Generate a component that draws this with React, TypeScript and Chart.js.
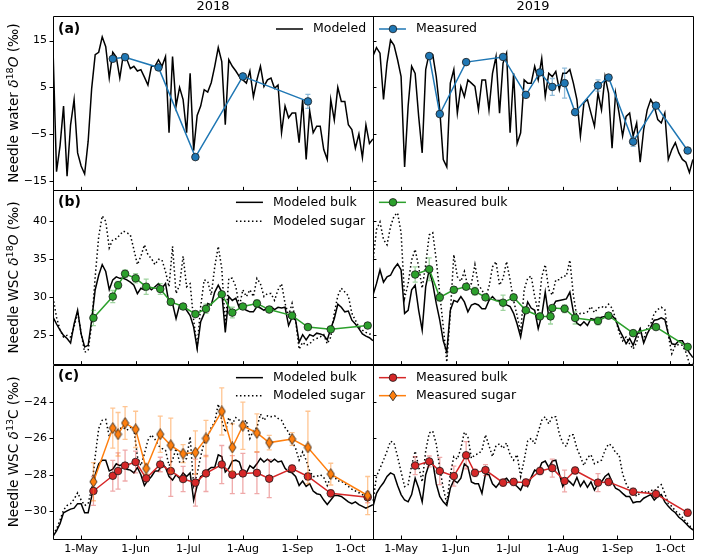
import React, { useEffect, useRef } from 'react';
import { Chart, registerables } from 'chart.js';

Chart.register(...registerables);

const FONT = "'DejaVu Sans', sans-serif";
const C_BLUE = '#1f77b4';
const C_GREEN = '#2ca02c';
const C_RED = '#d62728';
const C_ORANGE = '#ff7f0e';
const EDGE = '#1a1a1a';

// x axis (day of year)
const tickDays = [121, 152, 182, 213, 244, 274];
const tickLabels = ['1-May', '1-Jun', '1-Jul', '1-Aug', '1-Sep', '1-Oct'];
const yTicksA = [-15, -5, 5, 15];
const yTicksB = [25, 30, 35, 40];
const yTicksC = [-30, -28, -26, -24];

// modeled series, every second day
const modelDays = [105,107,109,111,113,115,117,119,121,123,125,127,129,131,133,135,137,139,141,143,145,147,149,151,153,155,157,159,161,163,165,167,169,171,173,175,177,179,181,183,185,187,189,191,193,195,197,199,201,203,205,207,209,211,213,215,217,219,221,223,225,227,229,231,233,235,237,239,241,243,245,247,249,251,253,255,257,259,261,263,265,267,269,271,273,275,277,279,281,283,285,287];

const modeledA2018 = [13.4,-13,-7.5,1,-14,-3,2.4,-9,-11.8,-13.5,-6.5,4.8,12,12.5,15.8,13.7,7,12.5,11.5,7,12,11,9,9.5,8.5,8.8,7.2,5.5,9.5,9.5,10.9,9.5,11.6,-4.7,11.6,1,5,2.4,-4.7,8,-8.5,-1,1,4.5,4,6,9.5,13.5,10.5,-3,10.9,9.5,8.5,7.3,6.6,5.9,8.5,3,6.6,9.5,5.2,6.6,7,4.8,5.5,-4.7,1,-1.5,-0.5,-0.5,-6.8,2.4,-10.4,0,-4.7,-3.3,-3.3,-8.3,-10.4,2.4,-2,5,2,2,-3,-4,-8,-5,-10,-3,-7,-6];
const modeledA2019 = [11.7,13.5,12.3,2.4,10.2,15.1,14,10.9,7.3,-12,1,9.5,8,-1.2,-9,8.8,12.3,12,7.3,0.2,-10.4,-12,5.9,8.8,-0.5,5.2,3,6.6,5.9,5.2,0.2,6.6,6.6,0.2,8,11.6,-0.5,10.2,12.3,-4.7,8,-7,-4.7,6.6,5.9,5.9,9.5,6.6,11.2,3.1,8,7.3,8.4,4.5,8,8,8.8,5.9,2.4,-5.4,1.7,2.4,-0.5,-3.3,3.8,0.2,7.3,3.8,-8,3.8,-0.5,-5.4,-1.2,-0.5,-5.4,-2.6,-11,-4,0.2,2.4,1,-1.9,-2.6,-0.5,-10.4,-8.3,-6.8,-9,-10.4,-11,-13.2,-10.4];

const modeledBulkB2018 = [27.4,26.5,25.7,25.0,24.6,24.0,26.5,28.3,25.2,23.5,23.7,27.0,31,32.9,34.3,33.4,31,32.3,32.7,32.5,32.5,32.3,32,31.6,30.5,31.2,31,31.4,31,31.4,31.8,31.2,31.8,29.2,29.2,27.2,29,28.8,28.3,27.6,26.1,23.3,26.8,27.9,29.2,29,30.7,31.6,30.7,25.4,30.1,29.6,29.9,28.6,28.6,28.3,28.1,28.1,28.8,28.6,28.3,28.7,28.8,28.4,28.7,28.6,28.7,26.3,27.4,27,24.1,25.1,24.4,25.1,24.9,25.3,25.2,25,24.4,25.9,27.2,29.1,28.7,28.1,28.2,27,26.5,25.9,25.2,24.9,24.7,24.3];
const modeledSugarB2018 = [30.0,27.4,25.7,24.8,25,24.8,26.1,28.1,25.3,22.8,23,26.5,32.7,38,40.7,40,36.5,37.6,37.7,38.2,38.7,38.5,38.2,36.3,34.3,35.4,36.9,35.6,35.1,34.3,35,34.9,33.4,31.4,36.7,30.5,31.6,35.4,31.4,31.8,27,23.5,28.8,32.3,32.1,30.3,34,36.7,33.8,26.3,32.5,32.5,31.4,28.8,31,30.1,31,30.1,32.5,31.8,30.1,30.5,30.5,29.6,31,31.8,29.2,27.6,29.2,27,23.2,24.1,23.7,23.9,24.4,24.6,24.8,25.1,23.9,24.8,27.9,30.2,31.2,30.7,30.2,27.9,27,26.1,25.7,25.4,25.2,25.2];
const modeledBulkB2019 = [30.3,31.8,33.6,32,32.7,32.9,33.8,34.4,33.6,27.9,28.3,31,31.6,28.3,25.7,31.4,33.6,31.8,29.2,27,24.3,22.8,28.3,29.6,29.4,30.1,29.4,28.1,29,29.2,29,28.5,28.5,29.6,30.1,29.6,29.6,29.4,29,28.8,27.9,26.5,24.8,27.4,29.4,28.6,28.3,25.9,27.6,30.7,27.4,28.7,29.5,29.6,29.7,29.8,30.7,28.1,26.6,26.3,26.8,26.3,27.2,27.1,27.1,27.4,27.5,27.7,27.6,27.1,25.8,24.9,23.9,24.6,23.7,25,25.9,24,25.2,26.1,27,27.1,27.3,27.1,25.2,23.9,23.8,24.3,24.3,23.5,22.7,22.1];
const modeledSugarB2019 = [34.7,38.9,39.9,37.6,36.9,39.3,40.7,41.1,38.5,29.9,31.8,34.9,36.3,34,31.2,34.3,38.2,38.5,34.9,30.5,26.1,21.5,27.9,35.6,32.7,32.1,33.4,31.4,31.8,34.3,31.6,31,29.9,31.4,34,34.7,31.6,32.5,34.7,32.3,29.6,27.6,25.4,31,32.5,32.8,30.1,28.1,32.7,34.3,31,30.3,32.3,32.3,32.8,32.8,34.9,30.3,27.4,27.9,27.9,28.1,28.8,28,28.6,28.8,28.6,29.1,28.6,27.2,25.4,24.3,24.8,23.9,23.2,24.1,25.8,24.3,26.1,26.5,27.9,28.4,28.7,28.4,25,22.6,23.7,23.8,23.7,22.8,21.3,21.3];

const modeledBulkC2018 = [-31.4,-31.1,-30.7,-30.1,-30,-29.9,-29.85,-29.6,-29.6,-30.1,-30.1,-29.2,-28,-27.4,-27.2,-27.2,-27.8,-27.7,-27.4,-27.5,-27.4,-27.7,-27.75,-27.9,-27.6,-28,-28.6,-28.3,-28.1,-27.8,-27.8,-27.4,-27.6,-28.1,-28.3,-28,-28.2,-27.9,-28.1,-27.9,-29.4,-28.6,-28.1,-28,-27.75,-27.6,-27.6,-26.9,-27,-27.85,-27.65,-27.25,-27.2,-27.3,-27.9,-27.9,-27.5,-27.65,-27.4,-27.1,-27.3,-27.15,-27.3,-27.15,-27.3,-27.25,-27.65,-27.85,-27.9,-28.1,-28.6,-28.35,-28.65,-28.5,-28.9,-29.05,-29.1,-29.4,-29.65,-29.4,-29.15,-29.15,-29.2,-29.35,-29.5,-29.6,-29.5,-29.65,-29.75,-29.85,-29.75,-29.65];
const modeledSugarC2018 = [-31.3,-31.0,-30.5,-29.95,-29.7,-29.6,-29.35,-29,-29.4,-29.7,-29.6,-28.75,-27,-25.45,-25,-24.95,-25.9,-25.45,-25.6,-25.45,-25.4,-25.55,-25.4,-25.45,-27,-27.5,-26.85,-26.1,-25.8,-26.05,-26.4,-26.55,-26.65,-27.5,-27.2,-26.55,-27.3,-27.3,-27.1,-25.9,-28.6,-27.95,-27,-26.2,-25.9,-25.4,-25.1,-24.1,-25,-25.65,-24.85,-25.2,-24.85,-25,-25.15,-25,-26,-25.55,-25.4,-24.65,-25,-24.75,-24.8,-24.75,-24.9,-25,-25.4,-25.65,-26.15,-26.55,-27.2,-26.75,-27.2,-27.8,-28.1,-28.1,-28,-28.15,-28.6,-28.1,-28.1,-28.35,-28.35,-28.5,-28.65,-28.8,-28.9,-29,-29.1,-29.2,-29.35,-29.4];
const modeledBulkC2019 = [-29.76,-29.03,-28.7,-28.45,-28.1,-27.9,-28,-28.6,-29.1,-29.4,-29.5,-29.1,-28.2,-28.75,-29.5,-28,-27.4,-27.3,-28.5,-29.2,-29.5,-29.7,-28.75,-28.3,-28.45,-28.2,-27.4,-27.57,-28.4,-28.5,-28.5,-29.03,-27.95,-28,-28.5,-28.7,-28.45,-28.3,-28.2,-28.45,-28.5,-28.65,-28.85,-28.4,-28.65,-28.15,-27.75,-27.85,-27.35,-27.25,-27.6,-27.25,-27.2,-27.95,-28.65,-28.25,-28.4,-28.6,-28.15,-28.65,-28.35,-28.7,-28.4,-28.85,-28.5,-28.4,-28.1,-27.95,-28.4,-28.75,-28.85,-29.03,-29.2,-29.2,-29.55,-29.5,-29.5,-29.3,-29.2,-29.1,-29.4,-29.2,-29.1,-29.5,-29.75,-29.95,-30.1,-30.35,-30.5,-30.7,-30.9,-31.05];
const modeledSugarC2019 = [-29.5,-28.1,-27.65,-27.2,-26.7,-26.15,-26.25,-27,-27.85,-28.66,-28.55,-27.5,-26.7,-27.55,-28.4,-26.7,-25.7,-25.6,-26.3,-27.65,-28.75,-29.6,-28,-27,-27.15,-26.55,-25.65,-25.9,-27.1,-26.9,-26.85,-26.65,-25.8,-26.4,-27,-26.4,-26.3,-26.55,-26.25,-26.9,-27.2,-26.9,-28.1,-27.2,-26.15,-26,-26.3,-25.65,-25,-24.8,-25.2,-24.8,-24.8,-25.75,-26.25,-26.45,-25.8,-25.8,-26.55,-27,-27.5,-27.05,-26.9,-27.4,-27.3,-27.2,-26.65,-26.3,-26.4,-26.8,-26.9,-27.95,-28.5,-28.85,-28.95,-29.2,-29,-28.9,-29.03,-28.85,-28.9,-28.7,-28.55,-29.03,-29.6,-29.75,-30,-30.15,-30.35,-30.6,-30.8,-31.05];

// measured series
const measA2018Days = [139, 146, 165, 186, 213, 250];
const measA2018 = [11.1, 11.45, 9.26, -9.9, 7.34, 2.0];
const measA2018Err = [0.3, 0.3, 0.4, 0.3, 0.6, 1.5];
const measA2019Days = [137, 143, 158, 179, 192, 200, 207, 214, 220, 233, 239, 253, 266, 284];
const measA2019 = [11.7, -0.7, 10.4, 11.5, 3.4, 8.2, 5.1, 5.9, -0.3, 5.4, 7.1, -6.6, 1.1, -8.5];
const measA2019Err = [0.3, 0.3, 0.3, 0.3, 0.3, 0.3, 1.8, 3.2, 0.3, 1.2, 0.3, 1.0, 0.3, 0.5];

const measB2018Days = [128, 139, 142, 146, 152, 158, 166, 172, 179, 186, 192, 201, 207, 213, 221, 228, 241, 250, 263, 284];
const measB2018 = [27.3, 30.1, 31.6, 33.1, 32.5, 31.4, 31.1, 29.4, 28.8, 27.8, 28.5, 30.4, 28.0, 28.8, 29.2, 28.4, 27.6, 26.1, 25.8, 26.3];
const measB2018Err = [1, 0.8, 0.5, 0.5, 0.6, 1, 0.7, 0.3, 0.3, 0.3, 0.6, 0.3, 0.7, 0.3, 0.5, 0.3, 0.3, 0.2, 0.2, 0.2];
const measB2019Days = [129, 137, 143, 151, 158, 163, 169, 179, 185, 192, 200, 206, 207, 214, 220, 233, 239, 253, 266, 284];
const measB2019 = [33.0, 33.7, 30.0, 31.0, 31.4, 30.8, 30.0, 29.3, 30.0, 28.3, 27.5, 27.5, 28.6, 28.5, 27.3, 26.9, 27.6, 25.3, 26.1, 23.5];
const measB2019Err = [1, 1.5, 0.5, 0.4, 0.3, 0.5, 0.3, 1, 0.3, 0.3, 0.3, 1, 0.3, 0.5, 0.8, 0.5, 0.3, 0.3, 0.3, 0.3];

const measC2018Days = [128, 139, 142, 146, 152, 158, 166, 172, 179, 186, 192, 201, 207, 213, 221, 228, 241, 250, 263, 284];
const measSugarC2018 = [-28.39, -25.43, -25.77, -25.15, -25.5, -27.66, -25.77, -26.38, -26.84, -26.78, -26.0, -24.51, -26.5, -25.3, -25.7, -26.23, -26.03, -26.5, -27.97, -29.15];
const measSugarC2018Err = [1.05, 1.1, 1.2, 0.9, 1.0, 0.3, 1.0, 1.5, 0.5, 1.2, 1.0, 1.3, 1.3, 1.3, 1.05, 0.4, 0.35, 2.0, 0.6, 1.05];
const measBulkC2018 = [-28.9, -28.06, -27.8, -27.5, -27.3, -28.2, -27.44, -27.8, -28.24, -28.44, -27.93, -27.44, -28.0, -27.93, -27.9, -28.22, -27.66, -28.1, -29.03, -29.25];
const measBulkC2018Err = [0.8, 0.85, 1.0, 0.85, 0.6, 0.2, 0.4, 1.4, 0.7, 1.3, 1.0, 1.05, 1.05, 1.1, 1.15, 1.05, 0.2, 0.2, 0.2, 0.3];
const measC2019Days = [129, 137, 143, 151, 158, 163, 169, 179, 185, 192, 200, 207, 214, 220, 233, 239, 253, 266, 284];
const measBulkC2019 = [-27.5, -27.27, -27.8, -28.08, -26.93, -27.9, -27.75, -28.44, -28.4, -28.43, -27.8, -27.64, -28.35, -27.77, -28.44, -28.4, -28.94, -29.07, -30.1];
const measBulkC2019Err = [0.5, 0.3, 0.75, 0.55, 0.75, 0.2, 0.3, 0.2, 0.2, 0.2, 0.2, 0.5, 0.6, 0.2, 0.5, 0.2, 0.2, 0.2, 0.2];

const fmt = (v: number) => (v < 0 ? '\u2212' + Math.abs(v) : String(v));
const pts = (days: number[], vals: number[]) => vals.map((v, i) => ({ x: days[i], y: v }));

function modeled(days: number[], vals: number[], x: string, y: string, dotted: boolean): any {
  return {
    type: 'line', data: pts(days, vals), xAxisID: x, yAxisID: y,
    borderColor: '#000', borderWidth: 1.5, pointRadius: 0, pointHoverRadius: 0,
    borderDash: dotted ? [1.5, 2.5] : [], borderCapStyle: 'butt', fill: false, tension: 0, order: 2,
  };
}
function measured(days: number[], vals: number[], errs: number[], x: string, y: string, color: string, errColor: string, style: any): any {
  return {
    type: 'line', data: pts(days, vals), xAxisID: x, yAxisID: y,
    borderColor: color, backgroundColor: color, borderWidth: 1.5,
    pointRadius: 3.8, pointStyle: style, pointBackgroundColor: color,
    pointBorderColor: EDGE, pointBorderWidth: 0.8, fill: false, tension: 0, order: 1,
    errors: errs, errColor,
  };
}

function drawMarker(ctx: CanvasRenderingContext2D, x: number, y: number, kind: string, color: string) {
  ctx.save();
  ctx.beginPath();
  if (kind === 'circle') {
    ctx.arc(x, y, 3.8, 0, Math.PI * 2);
  } else {
    ctx.moveTo(x, y - 5.2); ctx.lineTo(x + 3.6, y); ctx.lineTo(x, y + 5.2); ctx.lineTo(x - 3.6, y); ctx.closePath();
  }
  ctx.fillStyle = color; ctx.fill();
  ctx.lineWidth = 0.8; ctx.strokeStyle = EDGE; ctx.stroke();
  ctx.restore();
}

export default function App() {
  const ref = useRef<HTMLCanvasElement>(null);
  useEffect(() => {
    const canvas = ref.current!;
    Chart.defaults.font.family = FONT;

    const diamond = document.createElement('canvas');
    diamond.width = 9; diamond.height = 12;
    const dctx = diamond.getContext('2d')!;
    dctx.beginPath();
    dctx.moveTo(4.5, 0.6); dctx.lineTo(8.1, 6); dctx.lineTo(4.5, 11.4); dctx.lineTo(0.9, 6); dctx.closePath();
    dctx.fillStyle = C_ORANGE; dctx.fill(); dctx.lineWidth = 0.8; dctx.strokeStyle = EDGE; dctx.stroke();

    const datasets: any[] = [
      modeled(modelDays, modeledA2018, 'x18', 'ya', false),
      modeled(modelDays, modeledA2019, 'x19', 'ya', false),
      modeled(modelDays, modeledBulkB2018, 'x18', 'yb', false),
      modeled(modelDays, modeledSugarB2018, 'x18', 'yb', true),
      modeled(modelDays, modeledBulkB2019, 'x19', 'yb', false),
      modeled(modelDays, modeledSugarB2019, 'x19', 'yb', true),
      modeled(modelDays, modeledBulkC2018, 'x18', 'yc', false),
      modeled(modelDays, modeledSugarC2018, 'x18', 'yc', true),
      modeled(modelDays, modeledBulkC2019, 'x19', 'yc', false),
      modeled(modelDays, modeledSugarC2019, 'x19', 'yc', true),
      measured(measA2018Days, measA2018, measA2018Err, 'x18', 'ya', C_BLUE, 'rgba(31,119,180,0.5)', 'circle'),
      measured(measA2019Days, measA2019, measA2019Err, 'x19', 'ya', C_BLUE, 'rgba(31,119,180,0.5)', 'circle'),
      measured(measB2018Days, measB2018, measB2018Err, 'x18', 'yb', C_GREEN, 'rgba(44,160,44,0.45)', 'circle'),
      measured(measB2019Days, measB2019, measB2019Err, 'x19', 'yb', C_GREEN, 'rgba(44,160,44,0.45)', 'circle'),
      measured(measC2018Days, measSugarC2018, measSugarC2018Err, 'x18', 'yc', C_ORANGE, 'rgba(255,127,14,0.45)', diamond),
      measured(measC2018Days, measBulkC2018, measBulkC2018Err, 'x18', 'yc', C_RED, 'rgba(214,39,40,0.4)', 'circle'),
      measured(measC2019Days, measBulkC2019, measBulkC2019Err, 'x19', 'yc', C_RED, 'rgba(214,39,40,0.4)', 'circle'),
    ];

    const xScale = (weight: number): any => ({
      type: 'linear', position: 'bottom', stack: 'cols', stackWeight: 1, weight,
      min: 105, max: 287,
      grid: { display: false, drawTicks: false }, border: { display: false },
      afterBuildTicks: (s: any) => { s.ticks = tickDays.map((v) => ({ value: v })); },
      afterFit: (s: any) => { s.height = 17; },
      ticks: {
        autoSkip: false, maxRotation: 0, minRotation: 0, padding: 4, color: '#000',
        font: { size: 11, family: FONT },
        callback: (v: any) => { const i = tickDays.indexOf(Number(v)); return i >= 0 ? tickLabels[i] : ''; },
      },
    });
    const yScale = (weight: number, min: number, max: number, tv: number[]): any => ({
      type: 'linear', position: 'left', stack: 'rows', stackWeight: 1, weight, min, max,
      grid: { display: false, drawTicks: false }, border: { display: false },
      afterBuildTicks: (s: any) => { s.ticks = tv.map((v) => ({ value: v })); },
      afterFit: (s: any) => { s.width = 53; },
      ticks: { padding: 6, color: '#000', font: { size: 11, family: FONT }, callback: (v: any) => fmt(Number(v)) },
    });

    const yTitles: any[] = [
      { id: 'ya', parts: [['Needle water ', 'n'], ['\u03b4', 'i'], ['18', 's'], ['O', 'i'], [' (\u2030)', 'n']] },
      { id: 'yb', parts: [['Needle WSC ', 'n'], ['\u03b4', 'i'], ['18', 's'], ['O', 'i'], [' (\u2030)', 'n']] },
      { id: 'yc', parts: [['Needle WSC ', 'n'], ['\u03b4', 'i'], ['13', 's'], ['C', 'n'], [' (\u2030)', 'n']] },
    ];

    const deco: any = {
      id: 'deco',
      beforeDatasetDraw(chart: any, args: any) {
        const ds = chart.data.datasets[args.index];
        if (!ds.errors) return;
        const ctx = chart.ctx;
        const xs = chart.scales[ds.xAxisID];
        const ys = chart.scales[ds.yAxisID];
        ctx.save();
        ctx.strokeStyle = ds.errColor;
        ctx.lineWidth = 1.3;
        ds.data.forEach((p: any, i: number) => {
          const e = ds.errors[i];
          const px = xs.getPixelForValue(p.x);
          const y1 = ys.getPixelForValue(p.y - e);
          const y2 = ys.getPixelForValue(p.y + e);
          ctx.beginPath();
          ctx.moveTo(px, y1); ctx.lineTo(px, y2);
          ctx.moveTo(px - 2.5, y1); ctx.lineTo(px + 2.5, y1);
          ctx.moveTo(px - 2.5, y2); ctx.lineTo(px + 2.5, y2);
          ctx.stroke();
        });
        ctx.restore();
      },
      afterDraw(chart: any) {
        const ctx: CanvasRenderingContext2D = chart.ctx;
        const sc = chart.scales;
        const cols = [sc.x18, sc.x19];
        const rows = [
          { s: sc.ya, t: yTicksA },
          { s: sc.yb, t: yTicksB },
          { s: sc.yc, t: yTicksC },
        ];
        const r = (v: number) => Math.round(v) + 0.5;
        ctx.save();
        ctx.strokeStyle = '#000';
        ctx.lineWidth = 1;
        cols.forEach((xs: any, ci: number) => {
          rows.forEach((row: any) => {
            const ys = row.s;
            ctx.beginPath();
            ctx.rect(r(xs.left) - 0.5 + 0.5, r(ys.top), Math.round(xs.right - xs.left), Math.round(ys.bottom - ys.top));
            ctx.stroke();
            ctx.beginPath();
            tickDays.forEach((d) => {
              const px = r(xs.getPixelForValue(d));
              ctx.moveTo(px, ys.bottom); ctx.lineTo(px, ys.bottom - 3.5);
            });
            row.t.forEach((v: number) => {
              const py = r(ys.getPixelForValue(v));
              if (ci === 0) { ctx.moveTo(xs.left - 3.5, py); ctx.lineTo(xs.left, py); }
              else { ctx.moveTo(xs.left, py); ctx.lineTo(xs.left + 3.5, py); }
            });
            ctx.stroke();
          });
        });
        ctx.restore();

        // column titles
        ctx.save();
        ctx.fillStyle = '#000';
        ctx.font = `13px ${FONT}`;
        ctx.textAlign = 'center';
        ctx.textBaseline = 'middle';
        ctx.fillText('2018', (sc.x18.left + sc.x18.right) / 2, 7);
        ctx.fillText('2019', (sc.x19.left + sc.x19.right) / 2, 7);
        // panel letters
        ctx.font = `bold 14px ${FONT}`;
        ctx.textAlign = 'left';
        ctx.fillText('(a)', sc.x18.left + 5, sc.ya.top + 13);
        ctx.fillText('(b)', sc.x18.left + 5, sc.yb.top + 12);
        ctx.fillText('(c)', sc.x18.left + 5, sc.yc.top + 12);
        ctx.restore();

        // y titles
        yTitles.forEach((yt: any) => {
          const ys = sc[yt.id];
          const cy = (ys.top + ys.bottom) / 2;
          const size = 13.6;
          const fontOf = (k: string) =>
            k === 'i' ? `italic ${size}px ${FONT}` : k === 's' ? `${size * 0.7}px ${FONT}` : `${size}px ${FONT}`;
          let total = 0;
          yt.parts.forEach((p: any) => { ctx.font = fontOf(p[1]); total += ctx.measureText(p[0]).width; });
          ctx.save();
          ctx.translate(13, cy);
          ctx.rotate(-Math.PI / 2);
          ctx.fillStyle = '#000';
          ctx.textAlign = 'left';
          ctx.textBaseline = 'alphabetic';
          let x = -total / 2;
          yt.parts.forEach((p: any) => {
            ctx.font = fontOf(p[1]);
            ctx.fillText(p[0], x, p[1] === 's' ? 5 - 5.5 : 5);
            x += ctx.measureText(p[0]).width;
          });
          ctx.restore();
        });

        // legends
        const item = (x0: number, y: number, label: string, color: string, dotted: boolean, marker: string | null) => {
          ctx.save();
          ctx.strokeStyle = color;
          ctx.lineWidth = 1.5;
          ctx.setLineDash(dotted ? [1.5, 2.5] : []);
          ctx.beginPath(); ctx.moveTo(x0, y); ctx.lineTo(x0 + 27, y); ctx.stroke();
          ctx.setLineDash([]);
          if (marker) drawMarker(ctx, x0 + 14, y, marker, color);
          ctx.fillStyle = '#000';
          ctx.font = `12.5px ${FONT}`;
          ctx.textAlign = 'left';
          ctx.textBaseline = 'middle';
          ctx.fillText(label, x0 + 37, y);
          ctx.restore();
        };
        const L = sc.x18.right;
        const R = sc.x19.left;
        item(L - 97, sc.ya.top + 13, 'Modeled', '#000', false, null);
        item(R + 6, sc.ya.top + 13, 'Measured', C_BLUE, false, 'circle');
        item(L - 137, sc.yb.top + 12, 'Modeled bulk', '#000', false, null);
        item(L - 137, sc.yb.top + 31, 'Modeled sugar', '#000', true, null);
        item(R + 6, sc.yb.top + 12, 'Measured bulk', C_GREEN, false, 'circle');
        item(L - 137, sc.yc.top + 13, 'Modeled bulk', '#000', false, null);
        item(L - 137, sc.yc.top + 31, 'Modeled sugar', '#000', true, null);
        item(R + 6, sc.yc.top + 13, 'Measured bulk', C_RED, false, 'circle');
        item(R + 6, sc.yc.top + 31, 'Measured sugar', C_ORANGE, false, 'diamond');
      },
    };

    const chart = new Chart(canvas, {
      type: 'line',
      data: { datasets },
      options: {
        animation: false,
        responsive: false,
        devicePixelRatio: 1,
        layout: { padding: { left: 0, top: 16, right: 1, bottom: 0 } },
        plugins: { legend: { display: false }, title: { display: false }, tooltip: { enabled: false } },
        events: [],
        scales: {
          x18: xScale(1),
          x19: xScale(2),
          yc: yScale(1, -31.55, -21.93, yTicksC),
          yb: yScale(2, 21.16, 44.06, yTicksB),
          ya: yScale(3, -17, 20.25, yTicksA),
        },
      } as any,
      plugins: [deco],
    });
    return () => chart.destroy();
  }, []);

  return (
    <div style={{ position: 'absolute', left: 0, top: 0, width: 709, height: 556 }}>
      <canvas ref={ref} width={709} height={556} style={{ display: 'block', width: 709, height: 556 }} />
    </div>
  );
}
